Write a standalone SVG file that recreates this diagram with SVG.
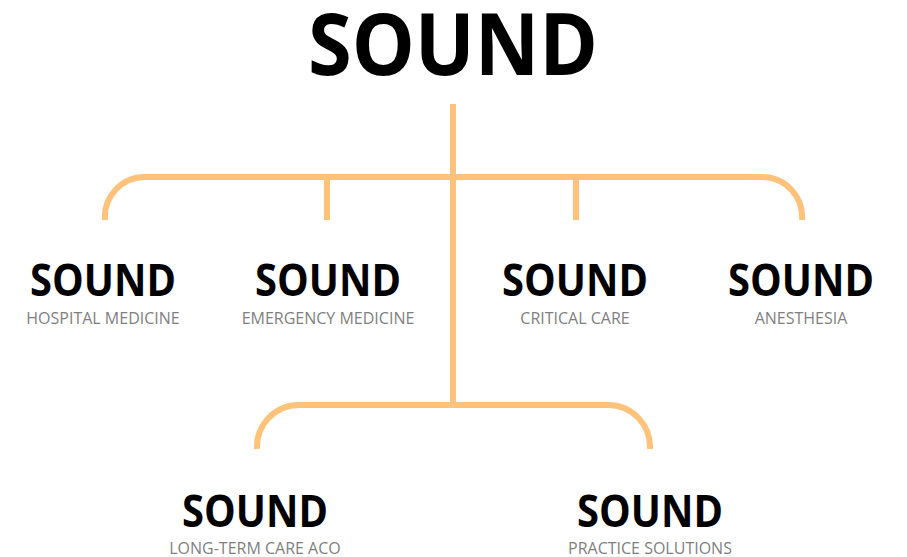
<svg xmlns="http://www.w3.org/2000/svg" width="907" height="557" viewBox="0 0 907 557">
  <style>
    .brand { font-family: "Open Sans", "Liberation Sans", sans-serif; font-weight: 700; fill: #000; text-anchor: middle; }
    .title { font-size: 86px; }
    .name { font-size: 44px; }
    .sub { font-family: "Open Sans", "Liberation Sans", sans-serif; font-size: 16px; fill: #7f7f7f; text-anchor: middle; }
    .link { fill: none; stroke: #FFC27A; stroke-width: 6; }
  </style>
  <rect width="907" height="557" fill="#fff"/>

  <!-- connectors -->
  <g id="connectors" class="link">
    <path d="M453 104 V405"/>
    <path d="M105 220 A40 40 0 0 1 145 177 H762 A40 40 0 0 1 802 220"/>
    <path d="M327 177 V220"/>
    <path d="M576 177 V220"/>
    <path d="M257 449 A42 42 0 0 1 299 405 H608 A42 42 0 0 1 650 449"/>
  </g>

  <g id="root">
    <text class="brand title" x="453" y="75" textLength="290" lengthAdjust="spacingAndGlyphs">SOUND</text>
  </g>
  <g id="hospital-medicine">
    <text class="brand name" x="103" y="296" textLength="146" lengthAdjust="spacingAndGlyphs">SOUND</text>
    <text class="sub" x="103" y="324">HOSPITAL MEDICINE</text>
  </g>
  <g id="emergency-medicine">
    <text class="brand name" x="328" y="296" textLength="146" lengthAdjust="spacingAndGlyphs">SOUND</text>
    <text class="sub" x="328" y="324">EMERGENCY MEDICINE</text>
  </g>
  <g id="critical-care">
    <text class="brand name" x="575" y="296" textLength="146" lengthAdjust="spacingAndGlyphs">SOUND</text>
    <text class="sub" x="575" y="324">CRITICAL CARE</text>
  </g>
  <g id="anesthesia">
    <text class="brand name" x="801" y="296" textLength="146" lengthAdjust="spacingAndGlyphs">SOUND</text>
    <text class="sub" x="801" y="324">ANESTHESIA</text>
  </g>
  <g id="long-term-care-aco">
    <text class="brand name" x="255" y="527" textLength="146" lengthAdjust="spacingAndGlyphs">SOUND</text>
    <text class="sub" x="255" y="554">LONG-TERM CARE ACO</text>
  </g>
  <g id="practice-solutions">
    <text class="brand name" x="650" y="527" textLength="146" lengthAdjust="spacingAndGlyphs">SOUND</text>
    <text class="sub" x="650" y="554">PRACTICE SOLUTIONS</text>
  </g>
</svg>
